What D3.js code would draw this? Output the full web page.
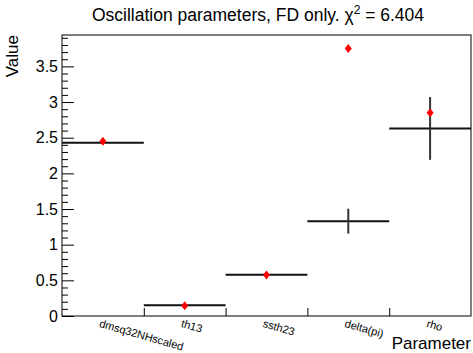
<!DOCTYPE html>
<html>
<head>
<meta charset="utf-8">
<script src="https://cdn.jsdelivr.net/npm/d3@7"></script>
<style>
  body { margin: 0; background: #fff; }
  text { font-family: "Liberation Sans", Arial, sans-serif; }
</style>
</head>
<body>
<div id="chart"></div>
<script>
// parameter names (bins)
const params = ["dmsq32NHscaled", "th13", "ssth23", "delta(pi)", "rho"];
// black histogram: fitted values and errors
const histValues = [2.43, 0.15, 0.58, 1.33, 2.63];
const histErrors = [0, 0, 0, 0.175, 0.44];
// red points: true values
const trueValues = [2.45, 0.145, 0.575, 3.75, 2.85];
const yTicks = [0, 0.5, 1, 1.5, 2, 2.5, 3, 3.5];
const chi2 = "6.404";

const W = 473, H = 353;
const margin = { top: 35, right: 2, bottom: 37, left: 62 },
  width = W - margin.left - margin.right,
  height = H - margin.top - margin.bottom;

const root = d3.select("#chart").append("svg")
  .attr("width", W)
  .attr("height", H);

const svg = root.append("g")
  .attr("transform", `translate(${margin.left},${margin.top})`);

// scales
const x = d3.scaleBand().domain(params).range([0, width]).padding(0);
const xEdge = d3.scaleLinear().domain([0, params.length]).range([0, width]);
const y = d3.scaleLinear().domain([0, 3.94]).range([height, 0]);

// frame
svg.append("rect")
  .attr("width", width)
  .attr("height", height)
  .attr("fill", "none")
  .attr("stroke", "#000")
  .attr("stroke-width", 1);

// y axis: minor then major ticks pointing inward
const minorTicks = d3.range(0, 3.95, 0.1).filter((v) => Math.abs(v * 2 - Math.round(v * 2)) > 1e-6);
svg.append("g")
  .call(d3.axisLeft(y).tickValues(minorTicks).tickSize(-6).tickFormat(""))
  .call((g) => g.select(".domain").remove());

const yAxis = svg.append("g")
  .call(d3.axisLeft(y).tickValues(yTicks).tickSize(-12).tickPadding(4).tickFormat(d3.format("")))
  .call((g) => g.select(".domain").remove());
yAxis.selectAll("text").style("font-size", "16px").attr("fill", "#000");

// x axis: ticks at bin edges pointing up
svg.append("g")
  .attr("transform", `translate(0,${height})`)
  .call(d3.axisBottom(xEdge).tickValues(d3.range(1, params.length)).tickSize(-8).tickFormat(""))
  .call((g) => g.select(".domain").remove());

// bin labels, rotated
svg.selectAll(".binlabel")
  .data(params)
  .enter()
  .append("text")
  .attr("class", "binlabel")
  .attr("x", (d) => x(d) + x.bandwidth() / 2 - 2)
  .attr("y", height + 3)
  .attr("transform", (d) => `rotate(16,${x(d) + x.bandwidth() / 2 - 2},${height + 3})`)
  .attr("dominant-baseline", "hanging")
  .style("font-size", "11px")
  .text((d) => d);

// histogram bars (horizontal lines) and error bars
const histData = params.map((p, i) => ({ p, v: histValues[i], e: histErrors[i], t: trueValues[i] }));

svg.selectAll(".hline")
  .data(histData)
  .enter()
  .append("line")
  .attr("x1", (d) => x(d.p))
  .attr("x2", (d) => x(d.p) + x.bandwidth())
  .attr("y1", (d) => y(d.v))
  .attr("y2", (d) => y(d.v))
  .attr("stroke", "#111")
  .attr("stroke-width", 2);

svg.selectAll(".eline")
  .data(histData.filter((d) => d.e > 0))
  .enter()
  .append("line")
  .attr("x1", (d) => x(d.p) + x.bandwidth() / 2)
  .attr("x2", (d) => x(d.p) + x.bandwidth() / 2)
  .attr("y1", (d) => y(d.v - d.e))
  .attr("y2", (d) => y(d.v + d.e))
  .attr("stroke", "#333")
  .attr("stroke-width", 2);

// red diamond markers
const diamond = {
  draw(ctx) {
    ctx.moveTo(0, -4.5);
    ctx.lineTo(3.5, 0);
    ctx.lineTo(0, 4.5);
    ctx.lineTo(-3.5, 0);
    ctx.closePath();
  }
};

svg.selectAll(".marker")
  .data(histData)
  .enter()
  .append("path")
  .attr("d", d3.symbol(diamond))
  .attr("transform", (d) => `translate(${x(d.p) + x.bandwidth() / 2},${y(d.t)})`)
  .attr("fill", "#ff0000");

// title
const title = root.append("text")
  .attr("x", 258)
  .attr("y", 21)
  .attr("text-anchor", "middle")
  .style("font-size", "17.5px");
title.append("tspan").text("Oscillation parameters, FD only. \u03c7");
title.append("tspan").attr("dy", -7).style("font-size", "12px").text("2");
title.append("tspan").attr("dy", 7).text(" = " + chi2);

// axis titles
root.append("text")
  .attr("transform", "translate(18,35) rotate(-90)")
  .attr("text-anchor", "end")
  .style("font-size", "17px")
  .text("Value");

root.append("text")
  .attr("x", 471)
  .attr("y", 349)
  .attr("text-anchor", "end")
  .style("font-size", "17px")
  .text("Parameter");
</script>
</body>
</html>
